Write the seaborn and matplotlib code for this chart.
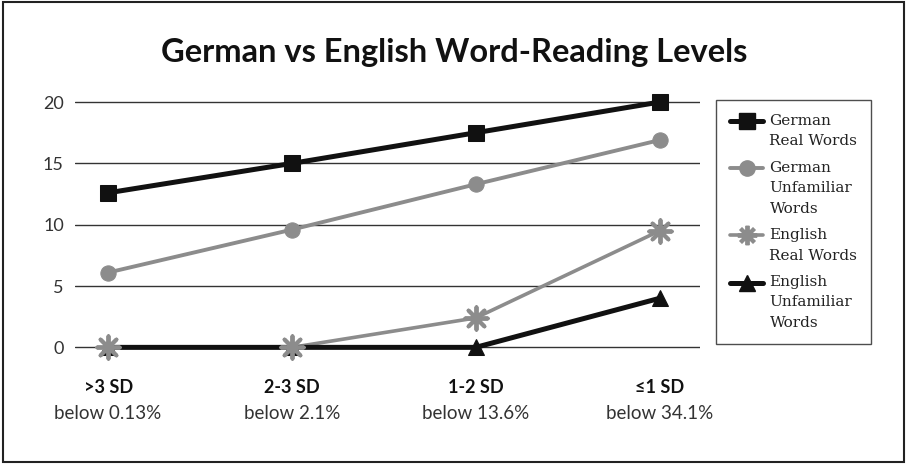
import numpy as np
import pandas as pd
import seaborn as sns
import matplotlib.pyplot as plt
from matplotlib.lines import Line2D
from matplotlib.patches import Rectangle

sns.set_style("white")
plt.rcParams["font.family"] = ["Lato", "DejaVu Sans"]

levels = [">3 SD", "2-3 SD", "1-2 SD", "≤1 SD"]
percentiles = ["below 0.13%", "below 2.1%", "below 13.6%", "below 34.1%"]
series_names = ["German\nReal Words", "German\nUnfamiliar\nWords",
                "English\nReal Words", "English\nUnfamiliar\nWords"]
german_real = [12.6, 15.0, 17.5, 20.0]
german_unfamiliar = [6.1, 9.6, 13.3, 16.9]
english_real = [0.0, 0.0, 2.4, 9.5]
english_unfamiliar = [0.0, 0.0, 0.0, 4.0]

black = "#111111"
gray = "#8c8c8c"
asterisk = (8, 2, 0)

df = pd.DataFrame({
    "pos": list(range(len(levels))) * 4,
    "value": german_real + german_unfamiliar + english_real + english_unfamiliar,
    "series": np.repeat(series_names, len(levels)),
})

def sub(i):
    return df[df["series"] == series_names[i]]

fig = plt.figure(figsize=(9.09, 4.66), dpi=100)
ax = fig.add_axes([0.0825, 0.223, 0.6876, 0.579])

# English real words: line under the black line, markers on top
sns.lineplot(data=sub(2), x="pos", y="value", color=gray, lw=2.6, ax=ax, zorder=3)
sns.lineplot(data=sub(3), x="pos", y="value", color=black, lw=3.6, marker="^",
             markersize=12, markeredgecolor=black, ax=ax, zorder=4)
sns.scatterplot(data=sub(2), x="pos", y="value", color=gray, marker=asterisk,
                s=260, linewidth=2.8, edgecolor=gray, ax=ax, zorder=5)
sns.lineplot(data=sub(1), x="pos", y="value", color=gray, lw=2.8, marker="o",
             markersize=11, markeredgecolor=gray, ax=ax, zorder=6)
sns.lineplot(data=sub(0), x="pos", y="value", color=black, lw=3.6, marker="s",
             markersize=11, markeredgecolor=black, ax=ax, zorder=7)

ax.set_xlim(-0.18, 3.22)
ax.set_ylim(-1.2, 20.8)
ax.set_yticks([0, 5, 10, 15, 20])
ax.tick_params(axis="y", length=0, pad=8, labelsize=13, labelcolor="#333333")
for y in [0, 5, 10, 15, 20]:
    ax.axhline(y, color="#333333", lw=1.0, zorder=1)
for s in ax.spines.values():
    s.set_visible(False)
ax.set_xlabel("")
ax.set_ylabel("")

ax.set_xticks(range(len(levels)))
ax.set_xticklabels(levels, fontweight="bold")
ax.set_xticks(range(len(levels)), minor=True)
ax.set_xticklabels(percentiles, minor=True)
ax.xaxis.remove_overlapping_locs = False
ax.tick_params(axis="x", which="major", length=0, pad=12, labelsize=13, labelcolor="#111111")
ax.tick_params(axis="x", which="minor", length=0, pad=31, labelsize=13.5, labelcolor="#333333")

fig.text(0.5, 0.888, "German vs English Word-Reading Levels", ha="center", va="center",
         fontsize=23.5, fontweight="bold", color="#111111")

handles = [
    Line2D([], [], color=black, lw=3.6, marker="s", markersize=11),
    Line2D([], [], color=gray, lw=2.8, marker="o", markersize=11),
    Line2D([], [], color=gray, lw=2.6, marker=asterisk, markersize=14, markeredgewidth=2.8),
    Line2D([], [], color=black, lw=3.6, marker="^", markersize=12),
]
leg = fig.legend(handles, series_names, loc="upper left",
                 bbox_to_anchor=(716 / 909, 1 - 100 / 466), bbox_transform=fig.transFigure,
                 frameon=True, fancybox=False, edgecolor="#222222", handlelength=2.2,
                 labelspacing=0.8, borderpad=0.9, handletextpad=0.4, borderaxespad=0,
                 prop={"family": ["DejaVu Serif"], "size": 11})
leg.get_frame().set_linewidth(1.0)
for t in leg.get_texts():
    t.set_color("#222222")
    t.set_linespacing(1.6)

# put each legend symbol level with the first line of its label
line_pt = 11 * 1.6 * 0.82
for h, name in zip(leg.legend_handles, series_names):
    n = name.count("\n") + 1
    h.set_ydata(np.asarray(h.get_ydata()) + (n - 1) / 2 * line_pt)

fig.patches.append(Rectangle((0.003, 0.008), 0.991, 0.988, transform=fig.transFigure,
                             fill=False, edgecolor="#222222", lw=1.5))

fig.savefig("out.png", dpi=100)
